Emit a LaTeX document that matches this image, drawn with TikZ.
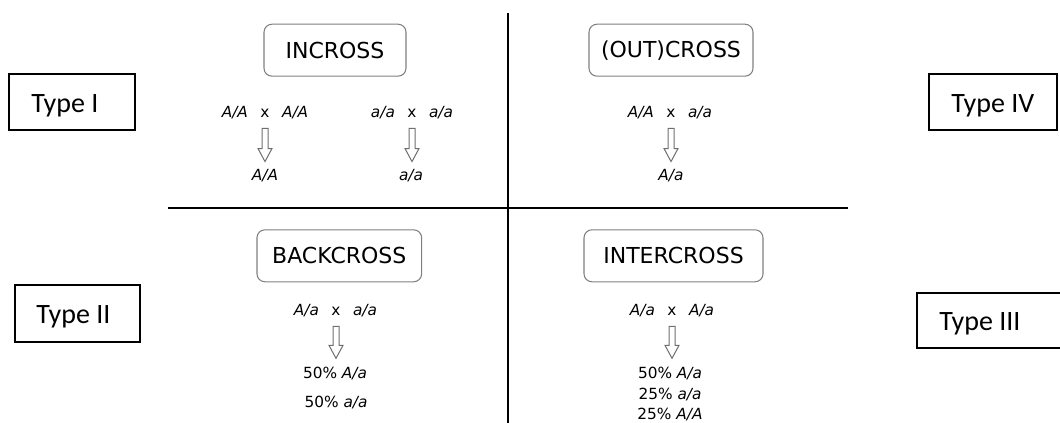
\documentclass[tikz,border=0pt]{standalone}
\usepackage{fontspec}
\setmainfont{DejaVu Sans}
\newfontfamily\typefont{Carlito}
\usetikzlibrary{calc}
\definecolor{boxgray}{RGB}{128,128,128}
\definecolor{arrowgray}{RGB}{110,110,110}
\newcommand{\holarrow}[2]{%
  \draw[hollow] let \p1=(#1), \p2=(#2) in
   (\x1-2.25pt,\y1) -- (\x1+2.25pt,\y1) -- (\x1+2.25pt,\y2+9.75pt) -- (\x1+5.25pt,\y2+9.75pt)
   -- (\x1,\y2) -- (\x1-5.25pt,\y2+9.75pt) -- (\x1-2.25pt,\y2+9.75pt) -- cycle;}
\begin{document}
\begin{tikzpicture}[x=0.75pt,y=-0.75pt,
  divider/.style={line width=1.5pt,draw=black},
  typebox/.style={draw=black,line width=1.5pt,inner sep=0pt},
  typelabel/.style={font=\typefont\fontsize{21}{25}\selectfont,inner sep=0pt,anchor=base west},
  crossbox/.style={draw=boxgray,line width=0.8pt,rounded corners=6pt,minimum height=39pt,inner sep=0pt,font=\fontsize{16.5}{20}\selectfont},
  geno/.style={font=\fontsize{11.5}{13}\selectfont\itshape,inner sep=0pt},
  times/.style={font=\fontsize{11.5}{13}\selectfont,inner sep=0pt,anchor=base},
  result/.style={font=\fontsize{11.5}{13}\selectfont,inner sep=0pt,anchor=base},
  iresult/.style={result,font=\fontsize{11.5}{13}\selectfont\itshape},
  hollow/.style={draw=arrowgray,line width=0.75pt,fill=white,line join=miter}
]
\useasboundingbox (0,0) rectangle (1060,423);

% dividers
\coordinate (vtop) at (508,13);
\coordinate (vbot) at (508,423);
\coordinate (hl) at (168,208);
\coordinate (hr) at (848,208);
\draw[divider] (vtop) -- (vbot);
\draw[divider] (hl) -- (hr);

% type boxes
\node[typebox,minimum width=94pt,minimum height=42.2pt] (t1) at (72,102.2) {};
\node[typelabel] (t1l) at (31,112.5) {Type I};
\node[typebox,minimum width=95.5pt,minimum height=42.2pt] (t4) at (993,102.2) {};
\node[typelabel] (t4l) at (951,112.5) {Type IV};
\node[typebox,minimum width=93.8pt,minimum height=43pt] (t2) at (77.8,313.8) {};
\node[typelabel] (t2l) at (36,323.5) {Type II};
\node[typebox,minimum width=118.5pt,minimum height=41.5pt] (t3) at (996,320.4) {};
\node[typelabel] (t3l) at (939,331) {Type III};

% cross boxes
\node[crossbox,minimum width=106.5pt] (incross) at (335,50.2) {INCROSS};
\node[crossbox,minimum width=123pt] (outcross) at (671,50.2) {(OUT)CROSS};
\node[crossbox,minimum width=123.5pt] (backcross) at (339.3,255.8) {BACKCROSS};
\node[crossbox,minimum width=134.25pt] (intercross) at (673.5,255.8) {INTERCROSS};

% INCROSS left
\node[times] (ix1) at (265,118) {x};
\node[geno,anchor=base east] (ix1a) at ($(ix1.base west)+(-12,0)$) {A/A};
\node[geno,anchor=base west] (ix1b) at ($(ix1.base east)+(12,0)$) {A/A};
\node[iresult] (ir1) at (265,181) {A/A};
\holarrow{$(ix1.south)+(0,10)$}{$(ir1.north)+(0,-8)$}

% INCROSS right
\node[times] (ix2) at (412,118) {x};
\node[geno,anchor=base east] (ix2a) at ($(ix2.base west)+(-12,0)$) {a/a};
\node[geno,anchor=base west] (ix2b) at ($(ix2.base east)+(12,0)$) {a/a};
\node[iresult] (ir2) at (411,181) {a/a};
\holarrow{$(ix2.south)+(0,10)$}{$(ir2.north)+(0,-8)$}

% OUTCROSS
\node[times] (ox) at (671,118) {x};
\node[geno,anchor=base east] (oxa) at ($(ox.base west)+(-12,0)$) {A/A};
\node[geno,anchor=base west] (oxb) at ($(ox.base east)+(12,0)$) {a/a};
\node[iresult] (or) at (671,181) {A/a};
\holarrow{$(ox.south)+(0,10)$}{$(or.north)+(0,-8)$}

% BACKCROSS
\node[times] (bx) at (336,316) {x};
\node[geno,anchor=base east] (bxa) at ($(bx.base west)+(-12,0)$) {A/a};
\node[geno,anchor=base west] (bxb) at ($(bx.base east)+(12,0)$) {a/a};
\node[result] (br1) at (335,379) {50\% \textit{A/a}};
\node[result] (br2) at (336,408) {50\% \textit{a/a}};
\holarrow{$(bx.south)+(0,10)$}{$(br1.north)+(0,-9)$}

% INTERCROSS
\node[times] (cx) at (672,316) {x};
\node[geno,anchor=base east] (cxa) at ($(cx.base west)+(-12,0)$) {A/a};
\node[geno,anchor=base west] (cxb) at ($(cx.base east)+(12,0)$) {A/a};
\node[result] (cr1) at (670,379) {50\% \textit{A/a}};
\node[result] (cr2) at (670,400) {25\% \textit{a/a}};
\node[result] (cr3) at (670,420) {25\% \textit{A/A}};
\holarrow{$(cx.south)+(0,10)$}{$(cr1.north)+(0,-9)$}
\end{tikzpicture}
\end{document}
